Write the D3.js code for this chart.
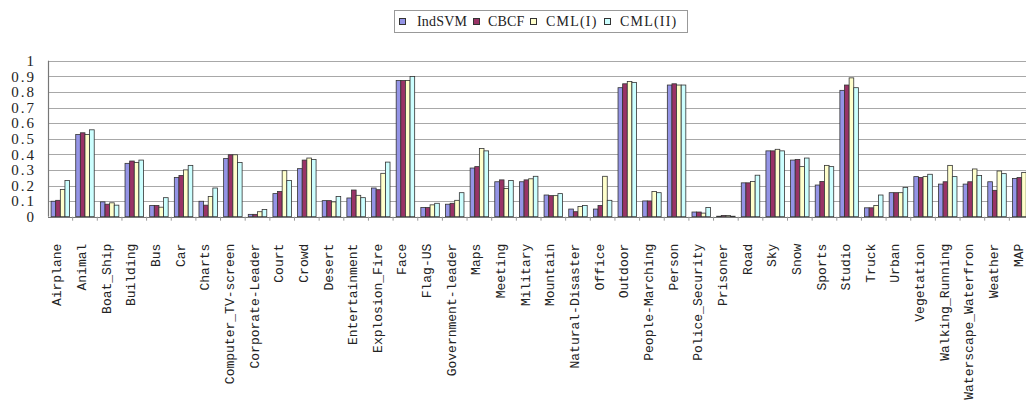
<!DOCTYPE html>
<html>
<head>
<meta charset="utf-8">
<script src="https://cdn.jsdelivr.net/npm/d3@7"></script>
<style>
  html, body { margin: 0; padding: 0; background: #ffffff; }
  svg { display: block; }
</style>
</head>
<body>
<svg id="chart" width="1026" height="402"></svg>
<script>
// Per-concept average precision for four methods
const categories = [
  "Airplane", "Animal", "Boat_Ship", "Building", "Bus", "Car", "Charts",
  "Computer_TV-screen", "Corporate-Leader", "Court", "Crowd", "Desert",
  "Entertainment", "Explosion_Fire", "Face", "Flag-US", "Government-leader",
  "Maps", "Meeting", "Military", "Mountain", "Natural-Disaster", "Office",
  "Outdoor", "People-Marching", "Person", "Police_Security", "Prisoner",
  "Road", "Sky", "Snow", "Sports", "Studio", "Truck", "Urban", "Vegetation",
  "Walking_Running", "Waterscape_Waterfron", "Weather", "MAP"
];

const seriesNames = ["IndSVM", "CBCF", "CML(I)", "CML(II)"];

const indSVM = [
  0.099, 0.527, 0.095, 0.342, 0.072, 0.251, 0.099, 0.373, 0.015, 0.148,
  0.308, 0.103, 0.120, 0.184, 0.873, 0.059, 0.080, 0.312, 0.224, 0.224,
  0.139, 0.049, 0.049, 0.827, 0.101, 0.844, 0.030, 0.003, 0.217, 0.422,
  0.363, 0.203, 0.810, 0.057, 0.154, 0.257, 0.209, 0.209, 0.224, 0.245
];
const cbcf = [
  0.105, 0.538, 0.080, 0.357, 0.072, 0.264, 0.074, 0.397, 0.015, 0.162,
  0.363, 0.103, 0.171, 0.173, 0.873, 0.059, 0.086, 0.321, 0.236, 0.236,
  0.135, 0.032, 0.072, 0.852, 0.101, 0.852, 0.030, 0.008, 0.217, 0.422,
  0.367, 0.226, 0.844, 0.057, 0.154, 0.251, 0.224, 0.224, 0.169, 0.251
];
const cmlI = [
  0.175, 0.527, 0.089, 0.348, 0.061, 0.300, 0.129, 0.397, 0.032, 0.295,
  0.376, 0.095, 0.137, 0.278, 0.873, 0.076, 0.105, 0.437, 0.181, 0.243,
  0.135, 0.065, 0.259, 0.867, 0.162, 0.844, 0.023, 0.008, 0.226, 0.432,
  0.321, 0.329, 0.890, 0.072, 0.154, 0.257, 0.329, 0.306, 0.293, 0.283
];
const cmlII = [
  0.232, 0.557, 0.074, 0.363, 0.122, 0.329, 0.184, 0.348, 0.046, 0.232,
  0.367, 0.129, 0.122, 0.350, 0.899, 0.086, 0.154, 0.422, 0.232, 0.259,
  0.148, 0.072, 0.105, 0.861, 0.154, 0.844, 0.059, 0.003, 0.266, 0.422,
  0.376, 0.321, 0.827, 0.139, 0.188, 0.272, 0.257, 0.264, 0.276, 0.290
];

const yTicks = [0, 0.1, 0.2, 0.3, 0.4, 0.5, 0.6, 0.7, 0.8, 0.9, 1];
const yTickLabels = ["0", "0.1", "0.2", "0.3", "0.4", "0.5", "0.6", "0.7", "0.8", "0.9", "1"];

const series = [indSVM, cbcf, cmlI, cmlII];
const colors = ["#9494e6", "#993366", "#ffffcc", "#ccffff"];

const serifFont = "'Liberation Serif', 'DejaVu Serif', serif";
const gothicFont = "'Liberation Mono', monospace";

const svg = d3.select("#chart");
const plot = { left: 48, right: 1034, top: 60.7, bottom: 216.7 };

const x = d3.scaleBand()
  .domain(categories)
  .range([plot.left, plot.right])
  .paddingInner(0.25)
  .paddingOuter(0.125);

const xBand = d3.scaleBand()
  .domain(categories)
  .range([plot.left, plot.right]);

const xs = d3.scaleBand()
  .domain(d3.range(series.length))
  .range([0, x.bandwidth()]);

const y = d3.scaleLinear().domain([0, 1]).range([plot.bottom, plot.top]);

// horizontal gridlines
svg.append("g")
  .selectAll("line")
  .data(yTicks.slice(1))
  .join("line")
  .attr("x1", plot.left)
  .attr("x2", plot.right)
  .attr("y1", d => Math.round(y(d)) + 0.5)
  .attr("y2", d => Math.round(y(d)) + 0.5)
  .attr("stroke", "#a8a8a8")
  .attr("stroke-width", 1.2);

// y axis with labels only
const yAxis = d3.axisLeft(y)
  .tickValues(yTicks)
  .tickFormat((d, i) => yTickLabels[i])
  .tickSize(0)
  .tickPadding(12);

const yg = svg.append("g")
  .attr("transform", `translate(${plot.left},0)`)
  .call(yAxis);
yg.select(".domain").remove();
yg.selectAll("text")
  .attr("font-family", serifFont)
  .attr("font-size", 15)
  .attr("letter-spacing", "2px")
  .attr("fill", "#222");

// bars
const groups = svg.append("g")
  .selectAll("g")
  .data(categories)
  .join("g")
  .attr("transform", d => `translate(${x(d)},0)`);

groups.selectAll("rect")
  .data((d, i) => series.map((s, k) => ({ k, v: s[i] })))
  .join("rect")
  .attr("x", d => xs(d.k))
  .attr("width", xs.bandwidth())
  .attr("y", d => y(d.v))
  .attr("height", d => y(0) - y(d.v))
  .attr("fill", d => colors[d.k])
  .attr("stroke", "#333")
  .attr("stroke-width", 0.8);

// axis lines
svg.append("line")
  .attr("x1", plot.left + 0.5).attr("x2", plot.left + 0.5)
  .attr("y1", plot.top).attr("y2", plot.bottom)
  .attr("stroke", "#777").attr("stroke-width", 1.2);

svg.append("line")
  .attr("x1", plot.left).attr("x2", plot.right)
  .attr("y1", Math.round(plot.bottom) + 0.5).attr("y2", Math.round(plot.bottom) + 0.5)
  .attr("stroke", "#777").attr("stroke-width", 1.2);

// category dividers under the baseline
svg.append("g")
  .selectAll("line")
  .data(categories.slice(1))
  .join("line")
  .attr("x1", d => xBand(d))
  .attr("x2", d => xBand(d))
  .attr("y1", plot.bottom)
  .attr("y2", plot.bottom + 4)
  .attr("stroke", "#999");

// rotated category labels
const xAxis = d3.axisBottom(xBand).tickSize(0).tickPadding(0);
const xg = svg.append("g")
  .attr("transform", `translate(0,${plot.bottom})`)
  .call(xAxis);
xg.select(".domain").remove();
xg.selectAll("text")
  .attr("font-family", gothicFont)
  .attr("font-size", 13)
  .attr("fill", "#222")
  .attr("text-anchor", "end")
  .attr("transform", "translate(-3.5,27) rotate(-90)")
  .attr("dx", 0)
  .attr("dy", "0.35em")
  .attr("x", 0)
  .attr("y", 0);

// legend
const legend = svg.append("g");
legend.append("rect")
  .attr("x", 394.5).attr("y", 10.5)
  .attr("width", 293).attr("height", 22)
  .attr("fill", "#fff")
  .attr("stroke", "#999");

const legendX = [399, 473, 530, 604];
const item = legend.selectAll("g.item")
  .data(seriesNames)
  .join("g")
  .attr("class", "item")
  .attr("transform", (d, i) => `translate(${legendX[i]},0)`);

item.append("rect")
  .attr("x", 0.5).attr("y", 18.5)
  .attr("width", 6).attr("height", 6)
  .attr("fill", (d, i) => colors[i])
  .attr("stroke", "#333");

item.append("text")
  .attr("x", (d, i) => [18, 15, 16, 16][i])
  .attr("y", 26)
  .attr("font-family", serifFont)
  .attr("font-size", 14)
  .attr("letter-spacing", (d, i) => i < 2 ? "0.2px" : "1.2px")
  .attr("fill", "#222")
  .text(d => d);
</script>
</body>
</html>
